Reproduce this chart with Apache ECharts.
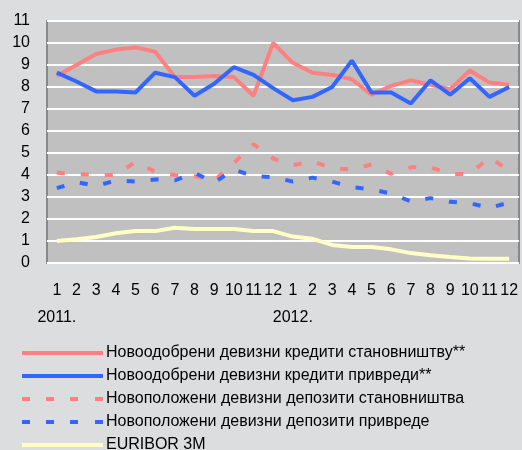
<!DOCTYPE html>
<html>
<head>
<meta charset="utf-8">
<script src="https://cdn.jsdelivr.net/npm/echarts@6/dist/echarts.min.js"></script>
<style>
html,body{margin:0;padding:0;background:#dcdddf;}
#c{width:522px;height:450px;}
</style>
</head>
<body>
<div id="c"></div>
<script>
const months = ['1','2','3','4','5','6','7','8','9','10','11','12','1','2','3','4','5','6','7','8','9','10','11','12'];
const yearLabels = {0:'2011.', 12:'2012.'};
const seriesNames = [
  'Новоодобрени девизни кредити становништву**',
  'Новоодобрени девизни кредити привреди**',
  'Новоположени девизни депозити становништва',
  'Новоположени девизни депозити привреде',
  'EURIBOR 3M'
];
const householdCredit = [8.5, 9.0, 9.5, 9.7, 9.8, 9.6, 8.45, 8.45, 8.5, 8.45, 7.6, 10.0, 9.1, 8.65, 8.55, 8.35, 7.65, 8.05, 8.3, 8.1, 7.9, 8.75, 8.2, 8.1];
const corporateCredit = [8.65, 8.25, 7.8, 7.8, 7.75, 8.65, 8.45, 7.6, 8.15, 8.9, 8.55, 7.95, 7.4, 7.55, 8.0, 9.2, 7.75, 7.75, 7.25, 8.3, 7.65, 8.4, 7.55, 8.0];
const householdDeposit = [4.1, 4.05, 4.0, 4.0, 4.6, 4.15, 4.0, 3.95, 3.75, 4.55, 5.4, 4.75, 4.45, 4.62, 4.3, 4.25, 4.48, 4.05, 4.35, 4.35, 4.05, 4.05, 4.8, 4.2];
const corporateDeposit = [3.4, 3.68, 3.5, 3.75, 3.7, 3.8, 3.75, 4.1, 3.65, 4.25, 3.95, 3.9, 3.7, 3.88, 3.7, 3.45, 3.35, 3.15, 2.8, 2.95, 2.78, 2.72, 2.5, 2.75];
const euribor = [1.0, 1.08, 1.18, 1.35, 1.45, 1.45, 1.6, 1.55, 1.55, 1.55, 1.45, 1.45, 1.2, 1.1, 0.82, 0.73, 0.73, 0.62, 0.45, 0.35, 0.27, 0.2, 0.19, 0.19];

const FONT = "'Liberation Sans', Arial, sans-serif";
const SOLID_ICON = 'path://M0,0h81v4h-81z';
const DASH_ICON = 'path://M0,0h81v0.01h-81z M0,0h8v4h-8z M24,0h8v4h-8z M48,0h8v4h-8z M73,0h8v4h-8z';
const chart = echarts.init(document.getElementById('c'), null, {renderer:'canvas'});
function mk(name, data, color, dashed){
  return {
    name: name, type: 'line', data: data, symbol: 'none', animation: false,
    lineStyle: {color: color, width: 4, type: dashed ? [8,16] : 'solid', cap: 'butt'},
    itemStyle: {color: color}
  };
}
chart.setOption({
  backgroundColor: '#dcdddf',
  animation: false,
  textStyle: {fontFamily: FONT},
  grid: {left: 47, right: 3, top: 21, bottom: 187, show: true, backgroundColor: '#c0c0c0', borderColor: '#888888', borderWidth: 2},
  xAxis: {
    type: 'category', data: months, boundaryGap: true,
    axisLine: {show: false}, axisTick: {show: false},
    axisLabel: {
      interval: 0, margin: 14, fontSize: 16, color: '#000', fontFamily: FONT, lineHeight: 27,
      formatter: function(v, i){ return yearLabels[i] ? v + '\n' + yearLabels[i] : v; }
    },
    splitLine: {show: false}
  },
  yAxis: {
    type: 'value', min: 0, max: 11, interval: 1,
    axisLine: {show: false}, axisTick: {show: false},
    axisLabel: {margin: 17, fontSize: 16, color: '#000', fontFamily: FONT},
    splitLine: {show: true, lineStyle: {color: '#ffffff', width: 2}}
  },
  legend: {
    orient: 'vertical', left: 22, top: 345, height: 140, padding: 0, itemGap: 7, itemWidth: 81, itemHeight: 4,
    textStyle: {fontSize: 16, color: '#000', fontFamily: FONT, lineHeight: 16, padding: [0, 0, 0, -2]},
    data: seriesNames.map((n, i) => ({name: n, icon: (i === 2 || i === 3) ? DASH_ICON : SOLID_ICON}))
  },
  series: [
    mk(seriesNames[0], householdCredit, '#ff8080', false),
    mk(seriesNames[1], corporateCredit, '#3366ff', false),
    mk(seriesNames[2], householdDeposit, '#ff8080', true),
    mk(seriesNames[3], corporateDeposit, '#3366ff', true),
    mk(seriesNames[4], euribor, '#ffffc6', false)
  ]
});
</script>
</body>
</html>
